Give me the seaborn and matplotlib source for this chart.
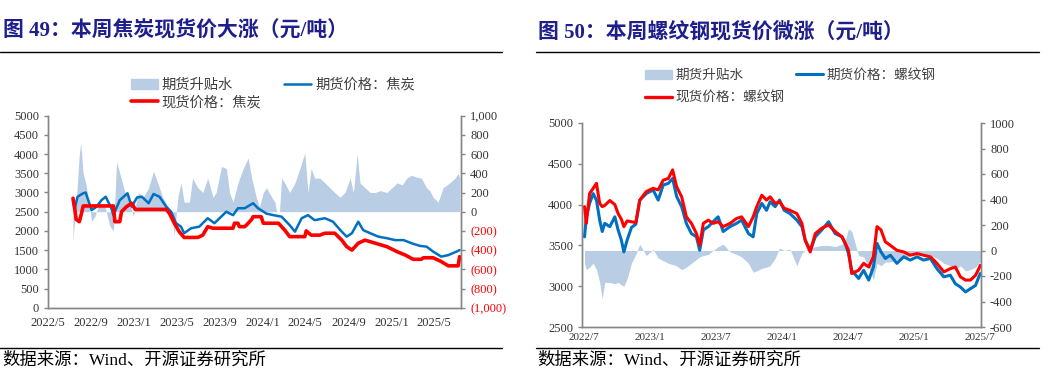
import pandas as pd
import matplotlib.pyplot as plt
import matplotlib.dates as mdates
from matplotlib.lines import Line2D
from matplotlib.patches import Patch
from matplotlib.ticker import FuncFormatter
import seaborn as sns

# ---------------- 图49 焦炭 ----------------
coke_fut_dates = ["2022-07-11", "2022-07-15", "2022-07-24", "2022-08-09", "2022-08-16", "2022-09-02",
                  "2022-09-16", "2022-09-30", "2022-10-12", "2022-10-28", "2022-11-03", "2022-11-21",
                  "2022-12-13", "2022-12-25", "2023-01-09", "2023-01-23", "2023-02-11", "2023-02-25",
                  "2023-03-14", "2023-04-02", "2023-04-16", "2023-04-30", "2023-05-14", "2023-05-23",
                  "2023-06-12", "2023-07-05", "2023-07-29", "2023-08-17", "2023-09-20", "2023-10-09",
                  "2023-10-23", "2023-11-11", "2023-12-05", "2023-12-19", "2024-01-12", "2024-02-01",
                  "2024-02-24", "2024-03-18", "2024-04-02", "2024-04-21", "2024-05-09", "2024-05-28",
                  "2024-06-26", "2024-07-19", "2024-08-13", "2024-08-27", "2024-09-11", "2024-09-29",
                  "2024-10-13", "2024-11-02", "2024-11-25", "2024-12-19", "2025-01-12", "2025-02-05",
                  "2025-02-27", "2025-03-23", "2025-04-11", "2025-04-30", "2025-05-23", "2025-06-12",
                  "2025-07-05", "2025-07-14"]
coke_fut = [2800, 2540, 2890, 2980, 3000, 2540,
            2630, 2800, 2890, 2590, 2410, 2800,
            2980, 2630, 2870, 2890, 2720, 2960,
            2890, 2630, 2500, 2200, 2110, 1940,
            2070, 2110, 2330, 2200, 2500, 2410,
            2590, 2590, 2720, 2590, 2450, 2410,
            2370, 2150, 1980, 2330, 2410, 2280,
            2330, 2240, 1980, 1850, 1940, 2240,
            2020, 1940, 1850, 1810, 1760, 1760,
            1680, 1610, 1590, 1460, 1330, 1370,
            1460, 1500]

coke_spot_dates = ["2022-07-11", "2022-07-15", "2022-07-20", "2022-07-29", "2022-08-04", "2022-08-09",
                   "2022-11-03", "2022-11-07", "2022-11-21", "2022-11-26", "2022-12-10", "2022-12-25",
                   "2023-01-04", "2023-04-02", "2023-04-11", "2023-04-25", "2023-05-09", "2023-05-23",
                   "2023-07-01", "2023-07-15", "2023-07-29", "2023-08-13", "2023-10-09", "2023-10-13",
                   "2023-10-23", "2023-10-27", "2023-11-11", "2023-11-16", "2023-12-01", "2023-12-05",
                   "2023-12-28", "2024-01-03", "2024-02-15", "2024-03-04", "2024-03-18", "2024-04-30",
                   "2024-05-04", "2024-05-18", "2024-06-12", "2024-06-26", "2024-07-24", "2024-08-13",
                   "2024-08-27", "2024-09-11", "2024-09-29", "2024-10-18", "2024-11-16", "2024-12-19",
                   "2025-01-17", "2025-02-10", "2025-03-04", "2025-03-27", "2025-04-02", "2025-04-30",
                   "2025-05-23", "2025-06-12", "2025-07-10", "2025-07-14"]
coke_spot = [2850, 2650, 2300, 2240, 2450, 2650,
             2650, 2240, 2240, 2500, 2630, 2720,
             2560, 2560, 2460, 2200, 1980, 1830,
             1830, 1890, 2110, 2070, 2070, 2200,
             2200, 2110, 2110, 2150, 2300, 2370,
             2370, 2200, 2200, 2020, 1850, 1850,
             2000, 1890, 1890, 1940, 1940, 1760,
             1590, 1500, 1680, 1760, 1680, 1590,
             1460, 1370, 1260, 1260, 1300, 1300,
             1200, 1090, 1090, 1330]

coke_basis_dates = ["2022-07-11", "2022-07-20", "2022-07-29", "2022-08-02", "2022-08-09", "2022-08-16",
                    "2022-08-23", "2022-09-02", "2022-09-11", "2022-09-25", "2022-10-10", "2022-10-24",
                    "2022-11-03", "2022-11-12", "2022-11-21", "2022-12-06", "2022-12-20", "2022-12-29",
                    "2023-01-13", "2023-01-27", "2023-02-11", "2023-02-25", "2023-03-09", "2023-03-23",
                    "2023-04-07", "2023-04-21", "2023-04-25", "2023-05-05", "2023-05-14", "2023-05-23",
                    "2023-06-07", "2023-06-16", "2023-07-01", "2023-07-15", "2023-07-29", "2023-08-13",
                    "2023-08-22", "2023-09-06", "2023-09-20", "2023-09-29", "2023-10-09", "2023-10-23",
                    "2023-11-07", "2023-11-21", "2023-12-01", "2023-12-14", "2023-12-23", "2024-01-03",
                    "2024-01-12", "2024-01-27", "2024-02-05", "2024-02-10", "2024-02-18", "2024-02-24",
                    "2024-03-04", "2024-03-18", "2024-04-02", "2024-04-16", "2024-04-30", "2024-05-09",
                    "2024-05-18", "2024-05-28", "2024-06-12", "2024-06-26", "2024-07-10", "2024-07-24",
                    "2024-08-08", "2024-08-22", "2024-09-06", "2024-09-15", "2024-09-26", "2024-10-04",
                    "2024-10-18", "2024-11-02", "2024-11-16", "2024-12-01", "2024-12-19", "2025-01-03",
                    "2025-01-17", "2025-02-01", "2025-02-14", "2025-02-27", "2025-03-13", "2025-03-27",
                    "2025-04-11", "2025-04-20", "2025-04-30", "2025-05-14", "2025-05-28", "2025-06-16",
                    "2025-07-01", "2025-07-10", "2025-07-14"]
coke_basis = [-300, 100, 600, 710, 400, 300,
              150, -100, -50, 100, 50, -150,
              -200, 520, 400, 200, 100, -50,
              200, 150, 250, 420, 300, 150,
              50, -100, -250, 150, 300, 100,
              100, 350, 250, 200, 350, 150,
              200, 470, 450, 200, 100, 300,
              450, 560, 350, 150, 50, 200,
              250, 150, 100, 0, 0, 350,
              300, 200, 300, 450, 610, 200,
              450, 350, 350, 300, 250, 200,
              150, 200, 350, 200, 600, 300,
              250, 200, 200, 220, 200, 250,
              300, 280, 350, 380, 360, 350,
              250, 220, 150, 100, 250, 300,
              350, 400, 350]

# ---------------- 图50 螺纹钢 ----------------
rebar_dates = ["2022-07-03", "2022-07-08", "2022-07-17", "2022-07-27", "2022-08-05", "2022-08-14",
               "2022-08-21", "2022-08-28", "2022-09-11", "2022-09-25", "2022-10-04", "2022-10-13",
               "2022-10-20", "2022-10-29", "2022-11-10", "2022-11-22", "2022-12-03", "2022-12-21",
               "2023-01-09", "2023-01-23", "2023-02-06", "2023-02-20", "2023-03-04", "2023-03-15",
               "2023-03-29", "2023-04-11", "2023-04-25", "2023-05-09", "2023-05-18", "2023-05-28",
               "2023-06-11", "2023-06-24", "2023-07-08", "2023-07-22", "2023-08-10", "2023-08-28",
               "2023-09-11", "2023-09-30", "2023-10-13", "2023-10-23", "2023-11-06", "2023-11-19",
               "2023-11-29", "2023-12-13", "2023-12-25", "2024-01-07", "2024-01-23", "2024-02-11",
               "2024-02-25", "2024-03-05", "2024-03-19", "2024-04-02", "2024-04-20", "2024-05-09",
               "2024-05-27", "2024-06-15", "2024-06-24", "2024-07-03", "2024-07-12", "2024-07-31",
               "2024-08-14", "2024-08-28", "2024-09-10", "2024-09-20", "2024-10-01", "2024-10-13",
               "2024-10-27", "2024-11-14", "2024-12-03", "2024-12-21", "2025-01-09", "2025-01-27",
               "2025-02-15", "2025-03-05", "2025-03-24", "2025-04-11", "2025-04-25", "2025-05-09",
               "2025-05-23", "2025-06-06", "2025-06-20", "2025-06-29", "2025-07-03"]
rebar_fut = [3605, 3850, 4015, 4135, 4055, 3810,
             3670, 3770, 3730, 3850, 3690, 3565,
             3420, 3565, 3720, 3760, 4055, 4135,
             4180, 4055, 4240, 4260, 4320, 4100,
             3975, 3770, 3645, 3605, 3440, 3690,
             3730, 3790, 3850, 3670, 3730, 3770,
             3810, 3645, 3605, 3890, 4015, 3930,
             4035, 3975, 4055, 3930, 3890, 3810,
             3730, 3565, 3440, 3605, 3690, 3790,
             3645, 3605, 3525, 3400, 3195, 3095,
             3195, 3075, 3235, 3525, 3420, 3340,
             3380, 3280, 3360, 3320, 3360, 3320,
             3340, 3215, 3115, 3135, 3030, 2990,
             2930, 2970, 3010, 3115, 3155]
rebar_spot = [3975, 3770, 4135, 4200, 4260, 4015,
              3975, 3990, 4050, 4000, 3890, 3820,
              3730, 3800, 3790, 3780, 4055, 4160,
              4200, 4180, 4300, 4320, 4425, 4220,
              4095, 3850, 3770, 3645, 3500, 3770,
              3810, 3770, 3790, 3730, 3770, 3830,
              3850, 3730, 3850, 3975, 4115, 4055,
              4095, 4015, 4035, 3955, 3930, 3890,
              3770, 3565, 3420, 3645, 3710, 3750,
              3670, 3605, 3525, 3440, 3155, 3195,
              3280, 3235, 3360, 3730, 3690, 3545,
              3500, 3440, 3420, 3380, 3400, 3380,
              3360, 3280, 3175, 3215, 3235, 3115,
              3075, 3075, 3135, 3215, 3255]
rebar_basis = [-100, -150, -130, -100, -150, -250,
               -380, -250, -250, -260, -250, -270,
               -280, -220, -100, -30, 50, -40,
               10, -60, -80, -100, -110, -120,
               -150, -130, -100, -70, -50, -40,
               -30, 0, 30, 50, -10, -30,
               -50, -100, -170, -160, -140, -130,
               -120, -60, 20, 0, 10, -120,
               -20, 0, 20, 30, 40, 40,
               30, 50, 80, 170, 150, -40,
               -50, -130, -230, -100, -120, -90,
               -90, -70, -60, -40, -20, -20,
               -40, -60, -100, -120, -150, -120,
               -160, -150, -130, -100, -90]

BLUE = "#0070C0"
RED = "#FF0000"
FILL = "#B9CDE5"
NAVY = "#1E1E8C"
GRAY = "#868686"
TXT = "#333333"

sns.set_style("white")
plt.rcParams["font.family"] = ["Liberation Serif", "Noto Sans CJK SC", "DejaVu Sans"]
plt.rcParams["axes.unicode_minus"] = False

W, H = 1060, 384
fig = plt.figure(figsize=(W / 100, H / 100), dpi=100)


def box(x0, y0, x1, y1):
    return [x0 / W, 1 - y1 / H, (x1 - x0) / W, (y1 - y0) / H]


def style_axes(ax, ax2, fs):
    for a in (ax, ax2):
        for s in a.spines.values():
            s.set_color(GRAY)
            s.set_linewidth(1.0)
        a.spines["top"].set_visible(False)
        a.tick_params(colors=GRAY, labelcolor=TXT, labelsize=fs, length=3, width=1, direction="out")
    ax.set_xlabel("")
    ax.set_ylabel("")
    ax2.set_ylabel("")
    ax.set_zorder(ax2.get_zorder() + 1)
    ax.patch.set_visible(False)


# ---------- left panel ----------
axL = fig.add_axes(box(48, 115.7, 461, 307.7))
axL2 = axL.twinx()
axL2.fill_between(pd.to_datetime(coke_basis_dates), 0, coke_basis, color=FILL, lw=0)
sns.lineplot(x=pd.to_datetime(coke_fut_dates), y=coke_fut, ax=axL, color=BLUE, linewidth=1.8)
sns.lineplot(x=pd.to_datetime(coke_spot_dates), y=coke_spot, ax=axL, color=RED, linewidth=2.6)
axL.set_xlim(pd.Timestamp("2022-05-01"), pd.Timestamp("2025-07-18"))
axL.set_ylim(0, 5000)
axL.set_yticks(range(0, 5001, 500))
axL2.set_ylim(-1000, 1000)
rticks = list(range(-1000, 1001, 200))
axL2.set_yticks(rticks)
axL2.set_yticklabels([f"{v:,}" if v >= 0 else f"({-v:,})" for v in rticks])
axL.xaxis.set_major_locator(mdates.MonthLocator(bymonth=[1, 5, 9]))
axL.xaxis.set_major_formatter(FuncFormatter(lambda x, p: f"{mdates.num2date(x).year}/{mdates.num2date(x).month}"))
style_axes(axL, axL2, 9)
for lab, v in zip(axL2.get_yticklabels(), rticks):
    if v < 0:
        lab.set_color(RED)

hL = [Patch(color=FILL), Line2D([], [], color=RED, lw=2.6), Line2D([], [], color=BLUE, lw=1.8)]
fig.legend(hL, ["期货升贴水", "现货价格：焦炭", "期货价格：焦炭"], ncol=2, frameon=False,
           loc="upper left", bbox_to_anchor=(118 / W, 1 - 65 / H), fontsize=10.3,
           handlelength=1.9, handletextpad=0.25, columnspacing=1.6, labelspacing=0.3,
           labelcolor="#404040")

# ---------- right panel ----------
axR = fig.add_axes(box(582, 123, 981, 327))
axR2 = axR.twinx()
rd = pd.to_datetime(rebar_dates)
axR2.fill_between(rd, 0, rebar_basis, color=FILL, lw=0)
sns.lineplot(x=rd, y=rebar_fut, ax=axR, color=BLUE, linewidth=2.2)
sns.lineplot(x=rd, y=rebar_spot, ax=axR, color=RED, linewidth=2.2)
axR.set_xlim(pd.Timestamp("2022-06-26"), pd.Timestamp("2025-07-05"))
axR.set_ylim(2500, 5000)
axR.set_yticks(range(2500, 5001, 500))
axR2.set_ylim(-600, 1000)
axR2.set_yticks(range(-600, 1001, 200))
axR.xaxis.set_major_locator(mdates.MonthLocator(bymonth=[1, 7]))
axR.xaxis.set_major_formatter(FuncFormatter(lambda x, p: f"{mdates.num2date(x).year}/{mdates.num2date(x).month}"))
style_axes(axR, axR2, 9)
axR.tick_params(axis="x", labelsize=8, pad=1)

hR = [Patch(color=FILL), Line2D([], [], color=RED, lw=2.4), Line2D([], [], color=BLUE, lw=2.2)]
fig.legend(hR, ["期货升贴水", "现货价格：螺纹钢", "期货价格：螺纹钢"], ncol=2, frameon=False,
           loc="upper left", bbox_to_anchor=(633 / W, 1 - 57 / H), fontsize=9.8,
           handlelength=2.0, handletextpad=0.25, columnspacing=0.8, labelspacing=0.7,
           labelcolor="#404040")

# ---------- titles, rules, sources ----------
fig.text(3 / W, 1 - 31 / H, "图 49：本周焦炭现货价大涨（元/吨）", fontsize=15, fontweight="bold",
         color=NAVY, va="center", ha="left")
fig.text(538 / W, 1 - 32 / H, "图 50：本周螺纹钢现货价微涨（元/吨）", fontsize=15, fontweight="bold",
         color=NAVY, va="center", ha="left")
for x0, x1 in [(0, 502), (536, 1039)]:
    fig.add_artist(Line2D([x0 / W, x1 / W], [1 - 52 / H] * 2, color="black", lw=1))
    fig.add_artist(Line2D([x0 / W, x1 / W], [1 - 348 / H] * 2, color="black", lw=1))
fig.text(2 / W, 1 - 361 / H, "数据来源：Wind、开源证券研究所", fontsize=12.5, color="black", va="center")
fig.text(537 / W, 1 - 361 / H, "数据来源：Wind、开源证券研究所", fontsize=12.5, color="black", va="center")

fig.savefig("out.png", dpi=100)
